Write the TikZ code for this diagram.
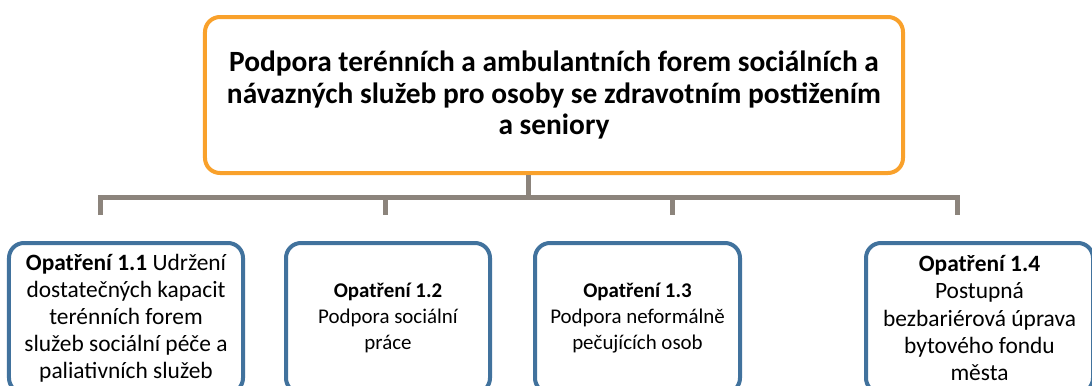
\documentclass[tikz,border=0pt]{standalone}
\usepackage{fontspec}
\setmainfont{Carlito}
\definecolor{orangeC}{HTML}{F9A12B}
\definecolor{blueC}{HTML}{41729D}
\definecolor{greyC}{HTML}{8C847C}
\begin{document}
\begin{tikzpicture}[x=1bp,y=-1bp,
  topbox/.style={draw=orangeC, line width=4bp, rounded corners=15bp, fill=white,
    minimum width=698bp, minimum height=156bp, inner sep=0pt, align=center,
    font=\fontsize{29.5}{31.5}\selectfont\bfseries},
  subbox/.style={draw=blueC, line width=4bp, rounded corners=15bp, fill=white,
    minimum height=150bp, inner sep=0pt, align=center,
    font=\fontsize{21}{26.5}\selectfont},
  bigtext/.style={font=\fontsize{23.5}{27.2}\selectfont},
  conn/.style={draw=greyC, line width=5bp}]
\useasboundingbox (0,0) rectangle (1092,385);
\clip (0,0) rectangle (1092,385);
\coordinate (hub) at (528,197);
\coordinate (l1) at (100,197);
\coordinate (l2) at (385,197);
\coordinate (l3) at (672,197);
\coordinate (l4) at (957,197);
\coordinate (d1) at (100,215);
\coordinate (d2) at (385,215);
\coordinate (d3) at (672,215);
\coordinate (d4) at (957,215);
\node[topbox] (top) at (554,95) {Podpora terénních a ambulantních forem sociálních a\\návazných služeb pro osoby se zdravotním postižením\\a seniory};
\draw[conn] (top.south -| hub) -- (hub);
\draw[conn] (d1) -- (l1) -- (l4) -- (d4);
\draw[conn] (l2) -- (d2);
\draw[conn] (l3) -- (d3);
\node[subbox, bigtext, minimum width=234bp] (m1) at (126,318) {\textbf{Opatření 1.1} Udržení\\dostatečných kapacit\\terénních forem\\služeb sociální péče a\\paliativních služeb};
\node[subbox, minimum width=204bp] (m2) at (388,318) {\textbf{Opatření 1.2}\\Podpora sociální\\práce};
\node[subbox, minimum width=205bp] (m3) at (637.5,318) {\textbf{Opatření 1.3}\\Podpora neformálně\\pečujících osob};
\node[subbox, bigtext, minimum width=227bp] (m4) at (979.5,318) {\textbf{Opatření 1.4}\\Postupná\\bezbariérová úprava\\bytového fondu\\města};
\end{tikzpicture}
\end{document}
